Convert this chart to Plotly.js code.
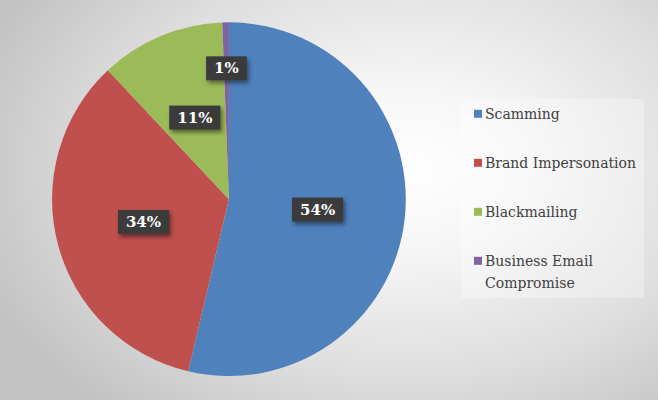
<!DOCTYPE html>
<html><head><meta charset="utf-8">
<script src="https://cdn.plot.ly/plotly-3.0.1.min.js"></script>
<style>
html,body{margin:0;padding:0;}
body{width:658px;height:400px;overflow:hidden;
background:radial-gradient(ellipse 70% 80% at 62% 42%, #ffffff 0%, #f6f6f6 25%, #dedede 65%, #c2c2c2 100%);}
#chart{width:658px;height:400px;}
</style></head><body><div id="chart"></div>
<script>
const categories = ['Scamming', 'Brand Impersonation', 'Blackmailing', 'Business Email Compromise'];
const shares = [53.7, 34.3, 11.4, 0.6];
const sliceColors = ['#4F81BD', '#C0504D', '#9BBB59', '#8064A2'];
const legendLabels = ['Scamming', 'Brand Impersonation', 'Blackmailing', 'Business Email<br>Compromise'];
// relative radius at which each label box sits (Excel best-fit placement)
const labelRadius = [0.505, 0.5, 0.5, 0.74];

const data = [{
  type: 'pie',
  labels: legendLabels,
  values: shares,
  sort: false,
  direction: 'clockwise',
  rotation: 0,
  marker: {colors: sliceColors, line: {width: 0}},
  textposition: 'inside',
  insidetextorientation: 'horizontal',
  texttemplate: '%{percent:.0%}',
  textfont: {family: 'DejaVu Serif', size: 15, color: '#ffffff', weight: 'bold'},
  hoverinfo: 'skip',
  domain: {x: [0.0795, 0.6195], y: [0.057, 0.947]}
}];

const layout = {
  width: 658, height: 400,
  margin: {l: 0, r: 0, t: 0, b: 0},
  paper_bgcolor: 'rgba(0,0,0,0)',
  plot_bgcolor: 'rgba(0,0,0,0)',
  uniformtext: {minsize: 15, mode: 'show'},
  showlegend: true,
  legend: {
    x: 0.704, xanchor: 'left', y: 0.752, yanchor: 'top',
    bgcolor: 'rgba(255,255,255,0.3)',
    font: {family: 'DejaVu Serif', size: 14, color: '#404040'},
    valign: 'top', itemclick: false, itemdoubleclick: false
  }
};

function parseTranslate(s) {
  const m = /translate\(\s*([-\d.e]+)[ ,]+([-\d.e]+)\s*\)/.exec(s || '');
  return m ? [parseFloat(m[1]), parseFloat(m[2])] : [0, 0];
}
function midY(el) { const b = el.getBoundingClientRect(); return b.top + b.height / 2; }

Plotly.newPlot('chart', data, layout, {staticPlot: true, displayModeBar: false}).then(gd => {
  const NS = 'http://www.w3.org/2000/svg';
  const svg = gd.querySelector('.main-svg');
  let defs = svg.querySelector('defs');
  if (!defs) { defs = document.createElementNS(NS, 'defs'); svg.insertBefore(defs, svg.firstChild); }
  defs.insertAdjacentHTML('beforeend',
    '<filter id="lblShadow" x="-30%" y="-30%" width="160%" height="170%">' +
    '<feDropShadow dx="2" dy="3" stdDeviation="2" flood-color="#000" flood-opacity="0.45"/></filter>');

  const cd = gd.calcdata[0];
  const cd0 = cd[0];
  gd.querySelectorAll('g.slicetext text').forEach((t, i) => {
    const bb = t.getBBox();
    const cdi = cd[i];
    const k = labelRadius[i];
    const tx = cd0.cx + k * cdi.pxmid[0] - (bb.x + bb.width / 2);
    const ty = cd0.cy + k * cdi.pxmid[1] - (bb.y + bb.height / 2);
    t.setAttribute('transform', 'translate(' + tx + ',' + ty + ')');
    const r = document.createElementNS(NS, 'rect');
    r.setAttribute('x', bb.x - 8);
    r.setAttribute('y', bb.y - 3);
    r.setAttribute('width', bb.width + 16);
    r.setAttribute('height', bb.height + 6);
    r.setAttribute('transform', 'translate(' + tx + ',' + ty + ')');
    r.setAttribute('fill', '#3a3a3a');
    r.setAttribute('filter', 'url(#lblShadow)');
    t.parentNode.insertBefore(r, t);
  });

  // legend: Excel-like spacing and compact symbol/text
  gd.querySelectorAll('.legendpoints path').forEach(p => {
    p.setAttribute('d', 'M4,4V-4H-4V4Z');
    p.style.strokeWidth = '0';
  });
  const step = 49;
  const items = Array.from(gd.querySelectorAll('.legend g.traces'));
  let y0 = null, firstTextY = null, symOffset = 0;
  items.forEach((g, i) => {
    const [x, y] = parseTranslate(g.getAttribute('transform'));
    if (y0 === null) y0 = y - 1;
    g.setAttribute('transform', 'translate(' + x + ',' + (y0 + i * step) + ')');
    const txt = g.querySelector('text.legendtext');
    const lines = txt ? txt.querySelectorAll('tspan.line') : [];
    if (txt) {
      if (firstTextY === null) firstTextY = txt.getAttribute('y');
      if (lines.length > 1) {
        txt.setAttribute('y', firstTextY);
        lines.forEach((s, j) => {
          s.setAttribute('y', firstTextY);
          if (j > 0) {
            const dy = parseFloat(s.getAttribute('dy')) || 0;
            s.setAttribute('dy', (dy * 22 / 18.2) + 'em');
          }
        });
      }
      txt.setAttribute('x', 24);
      lines.forEach(s => s.setAttribute('x', 24));
    }
    const pts = g.querySelector('.legendpoints');
    if (pts) {
      pts.setAttribute('transform', 'translate(-3,0)');
      const path = pts.querySelector('path');
      if (i === 0) {
        symOffset = midY(path) - midY(txt);
      } else if (lines.length > 1 && path) {
        const firstLineMid = midY(lines[0]);
        const shift = firstLineMid + symOffset - midY(path);
        pts.setAttribute('transform', 'translate(-3,' + shift + ')');
      }
    }
  });
  gd.querySelectorAll('.legend .scrollbox, .legend [clip-path]').forEach(el => el.removeAttribute('clip-path'));
  const bg = gd.querySelector('.legend rect.bg');
  if (bg) { bg.setAttribute('width', 183); bg.setAttribute('height', 199); }
});
</script></body></html>
